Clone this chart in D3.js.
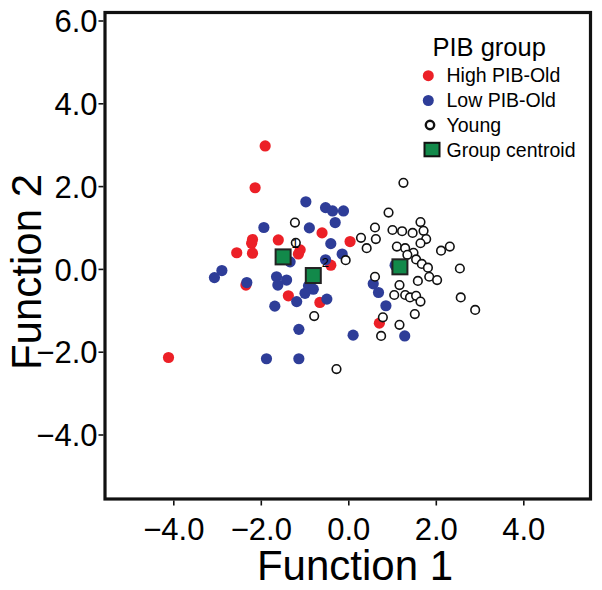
<!DOCTYPE html>
<html>
<head>
<meta charset="utf-8">
<script src="https://cdn.jsdelivr.net/npm/d3@7"></script>
<style>
  html, body { margin: 0; padding: 0; background: #fff; }
  svg { display: block; }
  text { font-family: "Liberation Sans", Arial, sans-serif; fill: #000; }
</style>
</head>
<body>
<svg id="chart" width="602" height="590"></svg>
<script>
// ---- data ----
const highPIB = [
  [-1.90, 2.97], [-2.13, 1.96], [-1.60, 0.70], [-2.19, 0.71], [-2.21, 0.62],
  [-2.55, 0.39], [-2.19, 0.38], [-0.60, 0.87], [0.04, 0.66], [-1.10, 0.46],
  [-1.14, 0.36], [-0.40, 0.09], [-2.34, -0.39], [-1.37, -0.65], [-0.65, -0.81],
  [0.71, -1.31], [-4.11, -2.14]
];
const lowPIB = [
  [-0.97, 1.62], [-0.52, 1.48], [-0.36, 1.40], [-0.11, 1.40], [-0.30, 1.12],
  [-1.93, 1.00], [-0.89, 0.99], [-0.40, 0.61], [-0.14, 0.36], [-0.52, 0.22],
  [-1.33, 0.17], [-2.89, -0.04], [-3.06, -0.21], [-2.32, -0.33], [-1.64, -0.19],
  [-1.41, -0.27], [-1.61, -0.39], [-0.91, -0.41], [-0.80, -0.49], [-0.99, -0.59],
  [-1.18, -0.79], [-0.49, -0.73], [-1.68, -0.90], [-1.13, -1.46], [0.11, -1.60],
  [-1.87, -2.17], [-1.13, -2.17], [1.07, 0.09], [0.57, -0.36], [0.69, -0.57],
  [0.86, -0.89], [1.29, -1.62]
];
const young = [
  [-1.22, 1.12], [-1.20, 0.63], [-0.06, 0.21], [0.29, 0.75], [0.61, 1.00],
  [0.63, 0.72], [0.42, 0.50], [0.61, -0.19], [-0.78, -1.14], [-0.27, -2.42],
  [1.26, 2.08], [0.92, 1.36], [1.65, 1.13], [1.01, 0.94], [1.23, 0.91],
  [1.47, 0.87], [1.72, 0.92], [1.78, 0.72], [1.65, 0.62], [1.11, 0.54],
  [1.30, 0.50], [1.49, 0.39], [2.32, 0.54], [2.12, 0.44], [1.35, 0.34],
  [1.55, 0.23], [1.68, 0.12], [1.82, 0.03], [2.55, 0.01], [1.85, -0.19],
  [2.03, -0.27], [1.59, -0.29], [1.17, -0.39], [1.05, -0.63], [1.30, -0.63],
  [1.41, -0.69], [1.55, -0.65], [1.65, -0.79], [2.57, -0.69], [2.90, -0.99],
  [1.52, -1.09], [0.79, -1.17], [1.17, -1.35], [0.75, -1.62]
];
const centroids = [[-1.49, 0.29], [-0.80, -0.16], [1.18, 0.05]];
const centroidLabels = ["1", "2"];
const xTicks = [-4, -2, 0, 2, 4];
const yTicks = [-4, -2, 0, 2, 4, 6];
const legendTitle = "PIB group";
const legendItems = ["High PIB-Old", "Low PIB-Old", "Young", "Group centroid"];
const xTitle = "Function 1";
const yTitle = "Function 2";

// ---- layout ----
const RED = "#ec2027", BLUE = "#2e3d98", GREEN = "#12894a";
const frame = { left: 105, top: 12.5, right: 590.5, bottom: 499 };

const svg = d3.select("#chart");
const x = d3.scaleLinear().domain([-4, 4]).range([173.3, 523.3]);
const y = d3.scaleLinear().domain([-4, 6]).range([434.5, 20.5]);

// frame
svg.append("rect")
  .attr("x", frame.left).attr("y", frame.top)
  .attr("width", frame.right - frame.left).attr("height", frame.bottom - frame.top)
  .attr("fill", "none").attr("stroke", "#111").attr("stroke-width", 3.2);

// x axis
const xAxis = d3.axisBottom(x).tickValues(xTicks).tickFormat(d3.format(".1f"))
  .tickSize(5).tickPadding(8);
const gx = svg.append("g").attr("transform", `translate(0,${frame.bottom + 1.5})`).call(xAxis);
gx.select(".domain").remove();
gx.selectAll(".tick line").attr("stroke", "#111").attr("stroke-width", 1.6);
gx.selectAll(".tick text").attr("font-size", 31).attr("font-family", "Liberation Sans, Arial, sans-serif")
  .attr("dy", null)
  .attr("y", 540 - (frame.bottom + 1.5))
  .attr("fill", "#000");

// y axis
const yAxis = d3.axisLeft(y).tickValues(yTicks).tickFormat(d3.format(".1f"))
  .tickSize(5).tickPadding(1);
const gy = svg.append("g").attr("transform", `translate(${frame.left - 1.5},0)`).call(yAxis);
gy.select(".domain").remove();
gy.selectAll(".tick line").attr("stroke", "#111").attr("stroke-width", 1.6);
gy.selectAll(".tick text").attr("font-size", 31).attr("font-family", "Liberation Sans, Arial, sans-serif")
  .attr("dy", "0.36em").attr("fill", "#000");

// axis titles
svg.append("text").attr("x", 355).attr("y", 580).attr("text-anchor", "middle")
  .attr("font-size", 42).text(xTitle);
svg.append("text").attr("transform", "translate(41,272) rotate(-90)")
  .attr("text-anchor", "middle").attr("font-size", 42).text(yTitle);

// points
const pts = svg.append("g");
pts.selectAll("circle.high").data(highPIB).join("circle").attr("class", "high")
  .attr("cx", d => x(d[0])).attr("cy", d => y(d[1])).attr("r", 5.6).attr("fill", RED);
pts.selectAll("circle.low").data(lowPIB).join("circle").attr("class", "low")
  .attr("cx", d => x(d[0])).attr("cy", d => y(d[1])).attr("r", 5.6).attr("fill", BLUE);
pts.selectAll("circle.young").data(young).join("circle").attr("class", "young")
  .attr("cx", d => x(d[0])).attr("cy", d => y(d[1])).attr("r", 4.3)
  .attr("fill", "#fff").attr("stroke", "#111").attr("stroke-width", 1.6);

// centroid labels
svg.selectAll("text.clab").data(centroidLabels).join("text").attr("class", "clab")
  .attr("x", (d, i) => x(centroids[i][0]) + 12).attr("y", (d, i) => y(centroids[i][1]) - 9)
  .attr("text-anchor", "middle").attr("font-size", 13).text(d => d);

// centroids
svg.selectAll("rect.cen").data(centroids).join("rect").attr("class", "cen")
  .attr("x", d => x(d[0]) - 7.5).attr("y", d => y(d[1]) - 7.5)
  .attr("width", 15).attr("height", 15)
  .attr("fill", GREEN).attr("stroke", "#222").attr("stroke-width", 2);

// legend
const lg = svg.append("g");
lg.append("text").attr("x", 432.5).attr("y", 56).attr("font-size", 25.5).text(legendTitle);
const rows = [81.7, 107.3, 131.7, 156.7];
lg.append("circle").attr("cx", 428.3).attr("cy", 75.7).attr("r", 5.5).attr("fill", RED);
lg.append("circle").attr("cx", 428.3).attr("cy", 100.5).attr("r", 5.5).attr("fill", BLUE);
lg.append("circle").attr("cx", 430).attr("cy", 125).attr("r", 4.2)
  .attr("fill", "#fff").attr("stroke", "#111").attr("stroke-width", 2.4);
lg.append("rect").attr("x", 424.5).attr("y", 142.8).attr("width", 15).attr("height", 13.5)
  .attr("fill", GREEN).attr("stroke", "#111").attr("stroke-width", 2);
lg.selectAll("text.item").data(legendItems).join("text").attr("class", "item")
  .attr("x", 446.5).attr("y", (d, i) => rows[i]).attr("font-size", 19.5).text(d => d);
</script>
</body>
</html>
